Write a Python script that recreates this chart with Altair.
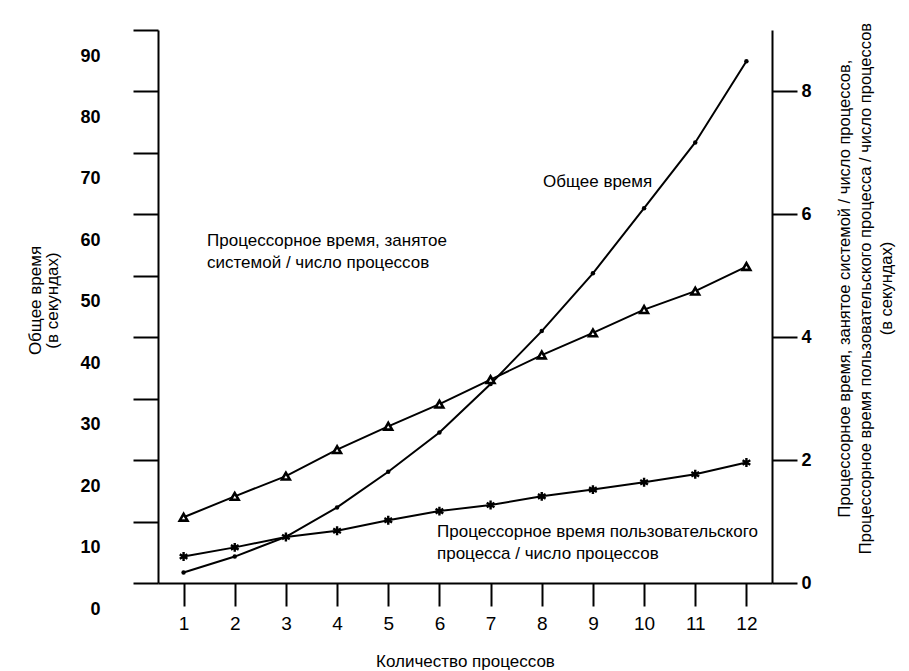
import altair as alt
import pandas as pd

# ---- data ----
processes = list(range(1, 13))
total_time = [1.7, 4.3, 7.5, 12.3, 18.1, 24.5, 32.4, 41.0, 50.4, 61.0, 71.7, 84.9]
system_time = [1.07, 1.41, 1.74, 2.17, 2.55, 2.91, 3.31, 3.71, 4.07, 4.45, 4.75, 5.15]
user_time = [0.43, 0.58, 0.75, 0.85, 1.02, 1.17, 1.27, 1.41, 1.52, 1.64, 1.77, 1.96]

left_ticks = [0, 10, 20, 30, 40, 50, 60, 70, 80, 90]
right_ticks = [0, 2, 4, 6, 8]

x_title = "Количество процессов"
left_title = ["Общее время", "(в секундах)"]
right_title = [
    "Процессорное время, занятое системой / число процессов,",
    "Процессорное время пользовательского процесса / число процессов",
    "(в секундах)",
]
ann_total = ["Общее время"]
ann_system = ["Процессорное время, занятое", "системой / число процессов"]
ann_user = ["Процессорное время пользовательского", "процесса / число процессов"]

FONT = "'Liberation Sans', Arial, Helvetica, sans-serif"

df_total = pd.DataFrame({"n": processes, "total": total_time})
df_right = pd.DataFrame({
    "n": processes * 2,
    "v": system_time + user_time,
    "series": ["system"] * 12 + ["user"] * 12,
})

x_enc = alt.X(
    "n:Q",
    scale=alt.Scale(domain=[0.5, 12.5], nice=False, zero=False),
    axis=alt.Axis(
        values=processes, title=x_title, tickSize=23, labelPadding=8,
        labelFontSize=19, labelOverlap=False, labelFlush=False,
        titleFontSize=17, titleY=78, titleBaseline="middle", domain=True,
    ),
)

y_left = alt.Y(
    "total:Q",
    scale=alt.Scale(domain=[0, 90], nice=False),
    axis=alt.Axis(
        orient="left", values=left_ticks, tickSize=25, labelPadding=33,
        labelOffset=26, labelFontSize=18, labelFontWeight="bold",
        labelOverlap=False, labelFlush=False,
        title=left_title, titleAngle=270, titleX=-123, titleY=270,
        titleAlign="center", titleBaseline="middle", titleLineHeight=17,
        titleFontSize=17,
    ),
)

y_right = alt.Y(
    "v:Q",
    scale=alt.Scale(domain=[0, 9], nice=False),
    axis=alt.Axis(
        orient="right", values=right_ticks, tickSize=25, labelPadding=4,
        labelFontSize=18, labelFontWeight="bold", labelOverlap=False,
        labelFlush=False,
        title=right_title, titleAngle=270, titleX=72, titleY=258,
        titleAlign="center", titleBaseline="middle", titleLineHeight=21,
        titleFontSize=16.5,
    ),
)

total_line = alt.Chart(df_total).mark_line(color="black", strokeWidth=2).encode(x=x_enc, y=y_left)
total_pts = alt.Chart(df_total).mark_point(
    shape="circle", filled=True, color="black", size=20, opacity=1
).encode(x=x_enc, y=y_left)
left_layer = alt.layer(total_line, total_pts)

right_lines = alt.Chart(df_right).mark_line(color="black", strokeWidth=2).encode(
    x=x_enc, y=y_right, detail="series:N"
)
tri_pts = alt.Chart(df_right).transform_filter(alt.datum.series == "system").mark_point(
    shape="triangle-up", filled=True, fill="white", stroke="black", strokeWidth=2.6,
    size=60, opacity=1,
).encode(x=x_enc, y=y_right)
star_pts = alt.Chart(df_right).transform_filter(alt.datum.series == "user").mark_point(
    shape="M0,-1L0,1M-0.866,-0.5L0.866,0.5M-0.866,0.5L0.866,-0.5",
    filled=False, stroke="black", strokeWidth=2.4, size=80, opacity=1,
).encode(x=x_enc, y=y_right)
right_layer = alt.layer(right_lines, tri_pts, star_pts)

one = pd.DataFrame({"k": [0]})


def note(lines, px, py):
    return alt.Chart(one).mark_text(
        text=lines, align="left", baseline="middle", font=FONT, fontSize=17,
        lineHeight=22, color="black",
    ).encode(x=alt.value(px), y=alt.value(py))


notes = alt.layer(
    note(ann_total, 385, 152),
    note(ann_system, 49, 211),
    note(ann_user, 279, 502),
)

chart = (
    alt.layer(left_layer, right_layer, notes)
    .resolve_scale(y="independent")
    .properties(
        width=614, height=553,
        autosize=alt.AutoSizeParams(type="none"),
        padding={"left": 150, "top": 22, "right": 128, "bottom": 88},
        background="white",
    )
    .configure_view(stroke=None)
    .configure_axis(
        grid=False, domainColor="black", domainWidth=2, tickColor="black",
        tickWidth=2, labelColor="black", titleColor="black", labelFont=FONT,
        titleFont=FONT, titleFontWeight="normal",
    )
)

chart.save("out.html", embed_options={"renderer": "svg", "actions": False})
